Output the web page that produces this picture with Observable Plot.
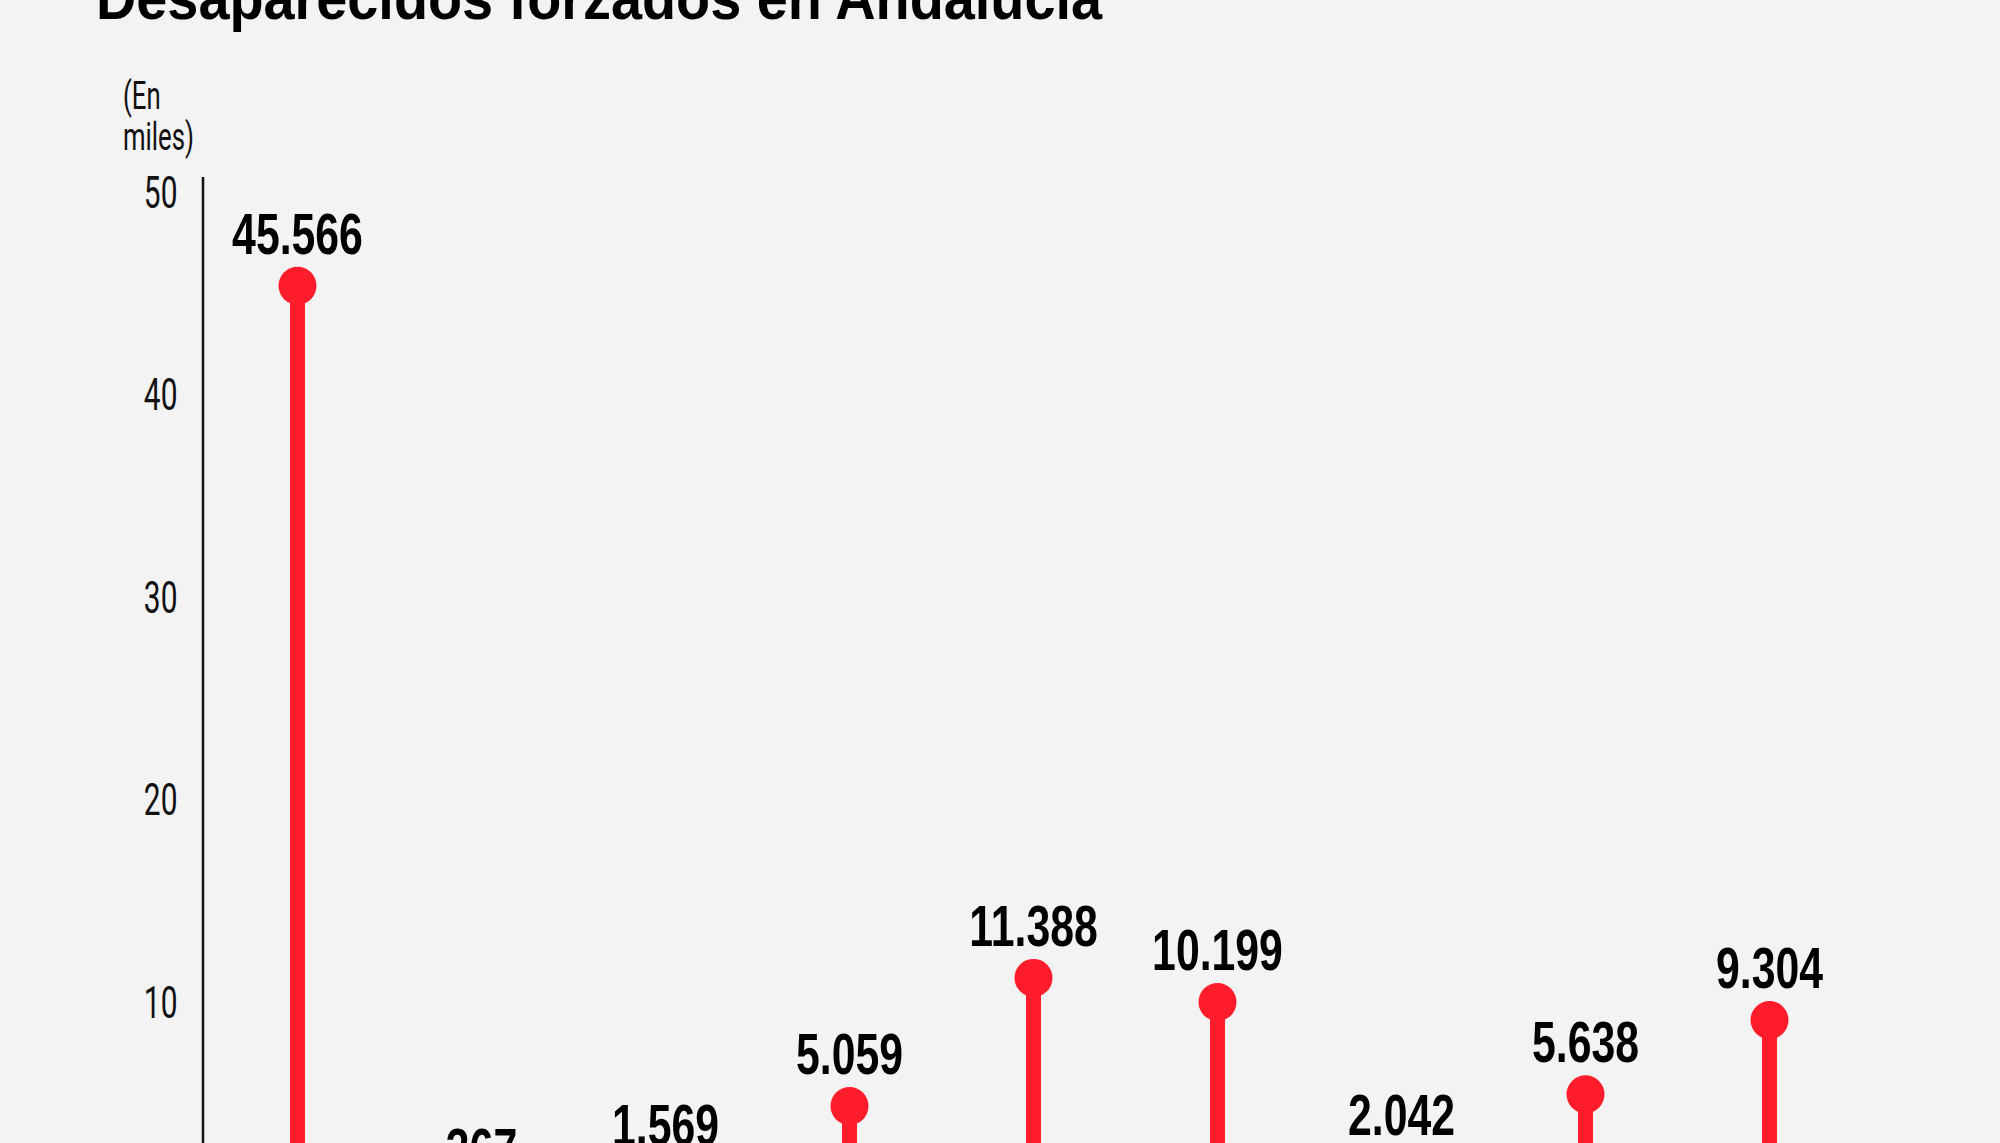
<!DOCTYPE html>
<html>
<head>
<meta charset="utf-8">
<script src="https://cdn.jsdelivr.net/npm/d3@7"></script>
<script src="https://cdn.jsdelivr.net/npm/@observablehq/plot@0.6"></script>
<style>
  html, body { margin: 0; padding: 0; background: #f3f3f3; width: 2000px; height: 1143px; overflow: hidden; }
  #title { position: absolute; left: 96px; top: -33.5px; margin: 0; font: 700 62px "Liberation Sans", Arial, sans-serif; line-height: 1; color: #000; white-space: nowrap; transform-origin: 0 0; }
  #unit { position: absolute; left: 123px; top: 76px; font: 400 39px Roboto, "Liberation Sans", sans-serif; line-height: 41px; color: #111; transform-origin: 0 0; transform: scaleX(0.66); }
  #chart { position: absolute; left: 0; top: 0; }
  #chart svg { overflow: visible; }
  .yaxis-text { font: 400 44px Roboto, "Liberation Sans", sans-serif; }
</style>
</head>
<body>
<h1 id="title">Desaparecidos forzados en Andalucía</h1>
<div id="unit">(En<br>miles)</div>
<div id="chart"></div>
<script>
const categorias = ["Andalucía", "Almería", "Cádiz", "Córdoba", "Granada", "Huelva", "Jaén", "Málaga", "Sevilla"];
const valores = [45.566, 0.367, 1.569, 5.059, 11.388, 10.199, 2.042, 5.638, 9.304];
const etiquetas = ["45.566", "367", "1.569", "5.059", "11.388", "10.199", "2.042", "5.638", "9.304"];
const yTicks = [0, 10, 20, 30, 40, 50];

const data = categorias.map((c, i) => ({cat: c, v: valores[i], label: etiquetas[i]}));
const rojo = "#ff1d2c";

const axisLine = (index, scales, values, dimensions) => {
  const g = d3.create("svg:g");
  g.append("line")
    .attr("x1", dimensions.marginLeft).attr("x2", dimensions.marginLeft)
    .attr("y1", dimensions.marginTop).attr("y2", dimensions.height - dimensions.marginBottom)
    .attr("stroke", "#111").attr("stroke-width", 2.5);
  return g.node();
};

const chart = Plot.plot({
  width: 2000,
  height: 1320,
  marginTop: 177,
  marginBottom: 112,
  marginLeft: 203,
  marginRight: 137,
  style: {background: "transparent", fontFamily: "'Liberation Sans', Arial, sans-serif", color: "#111"},
  x: {type: "point", domain: categorias, padding: 0.5, tickSize: 0, label: null, tickPadding: 20},
  y: {domain: [0, 50], ticks: yTicks, tickSize: 0, tickPadding: 26, label: null, insetTop: 18.5},
  marks: [
    Plot.ruleX(data, {x: "cat", y1: 0, y2: "v", stroke: rojo, strokeWidth: 15}),
    Plot.dot(data, {x: "cat", y: "v", r: 19, fill: rojo}),
    Plot.text(data, {x: "cat", y: "v", text: "label", dy: -32, lineAnchor: "bottom", fontSize: 57, fontWeight: 700, fill: "#000"}),
    axisLine
  ]
});
const svg = d3.select(chart);
svg.selectAll('g[aria-label^="y-axis"] text').attr("class", "yaxis-text").attr("font-size", null).attr("dy", "-0.05em");
svg.selectAll('g[aria-label^="x-axis"] text').style("font-size", "36px");
document.getElementById("chart").appendChild(chart);

function condense(sel, k) {
  sel.each(function () {
    const w = this.getComputedTextLength();
    this.setAttribute("textLength", w * k);
    this.setAttribute("lengthAdjust", "spacingAndGlyphs");
  });
}
condense(svg.selectAll('g[aria-label="text"] text'), 0.75);
condense(svg.selectAll('g[aria-label^="y-axis"] text'), 0.68);
condense(svg.selectAll('g[aria-label^="x-axis"] text'), 0.75);

const title = document.getElementById("title");
const tw = title.getBoundingClientRect().width;
title.style.transform = `scaleX(${1006 / tw})`;
</script>
</body>
</html>
